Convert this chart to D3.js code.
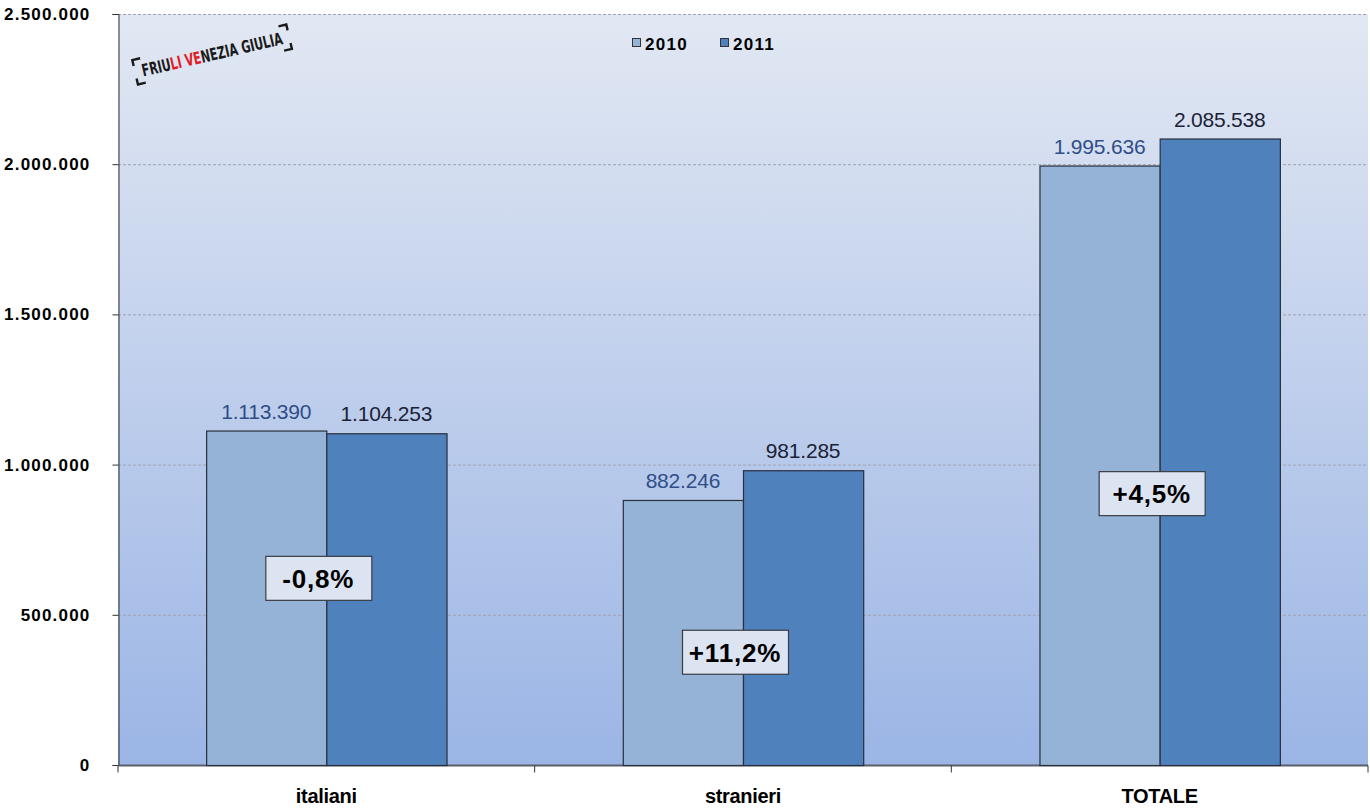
<!DOCTYPE html>
<html>
<head>
<meta charset="utf-8">
<script src="https://cdn.jsdelivr.net/npm/d3@7/dist/d3.min.js"></script>
<style>
  html, body { margin: 0; padding: 0; background: #ffffff; }
  svg { display: block; font-family: "Liberation Sans", Arial, sans-serif; }
</style>
</head>
<body>
<svg id="chart" width="1370" height="808"></svg>
<script>
const categories = ["italiani", "stranieri", "TOTALE"];
const years = ["2010", "2011"];
const values2010 = [1113390, 882246, 1995636];
const values2011 = [1104253, 981285, 2085538];
const changeLabels = ["-0,8%", "+11,2%", "+4,5%"];
const changeAnchors = [623000, 377000, 905000];
const yTicks = [0, 500000, 1000000, 1500000, 2000000, 2500000];

const fmt = v => d3.format(",")(v).replace(/,/g, ".");

const svg = d3.select("#chart");
const m = { left: 118, right: 1368, top: 14, bottom: 765 };

const x = d3.scaleBand().domain(categories).range([m.left, m.right]).paddingInner(0).paddingOuter(0);
const xi = d3.scaleBand().domain(years).range([0, x.bandwidth()]).paddingInner(0).paddingOuter(0.7333);
const y = d3.scaleLinear().domain([0, 2500000]).range([m.bottom, m.top]);

const defs = svg.append("defs");
const grad = defs.append("linearGradient").attr("id", "bg").attr("x1", 0).attr("y1", 0).attr("x2", 0).attr("y2", 1);
grad.append("stop").attr("offset", "0%").attr("stop-color", "#e2e8f3");
grad.append("stop").attr("offset", "100%").attr("stop-color", "#9bb5e5");

svg.append("rect")
  .attr("x", m.left).attr("y", m.top)
  .attr("width", m.right - m.left).attr("height", m.bottom - m.top)
  .attr("fill", "url(#bg)");

// gridlines
svg.append("g").selectAll("line").data(yTicks.filter(d => d > 0)).join("line")
  .attr("x1", m.left).attr("x2", m.right)
  .attr("y1", d => y(d) + 0.5).attr("y2", d => y(d) + 0.5)
  .attr("stroke", "#9ea4b0").attr("stroke-width", 1).attr("stroke-dasharray", "3,2");

// y axis
const yAxis = d3.axisLeft(y).tickValues(yTicks).tickSize(6).tickPadding(22).tickFormat(fmt);
const gy = svg.append("g").attr("transform", `translate(${m.left + 0.5},0)`).call(yAxis);
gy.select(".domain").attr("stroke", "#333");
gy.selectAll(".tick line").attr("stroke", "#333");
gy.selectAll(".tick text").attr("font-size", 17).attr("font-weight", "bold")
  .attr("letter-spacing", "1.2").attr("fill", "#000");

// x axis
const gx = svg.append("g").attr("transform", `translate(0,${m.bottom + 0.5})`);
gx.append("line").attr("x1", m.left).attr("x2", m.right).attr("stroke", "#5a5f6a").attr("stroke-width", 2);
gx.selectAll("line.tk").data([...categories.map(c => x(c)), m.right]).join("line")
  .attr("class", "tk")
  .attr("x1", d => d).attr("x2", d => d).attr("y1", 0).attr("y2", 7)
  .attr("stroke", "#333");
gx.selectAll("text").data(categories).join("text")
  .attr("x", d => x(d) + x.bandwidth() / 2).attr("y", 37)
  .attr("text-anchor", "middle").attr("font-size", 20).attr("font-weight", "bold")
  .attr("letter-spacing", "-0.3")
  .attr("fill", "#000").text(d => d);

// bars
const series = [
  { year: "2010", values: values2010, fill: "#95b3d7", labelColor: "#2f4e88" },
  { year: "2011", values: values2011, fill: "#4f81bd", labelColor: "#1b2236" }
];

series.forEach(s => {
  const g = svg.append("g");
  g.selectAll("rect").data(categories).join("rect")
    .attr("x", (c) => x(c) + xi(s.year) + 0.5)
    .attr("y", (c, i) => y(s.values[i]) + 0.5)
    .attr("width", xi.bandwidth())
    .attr("height", (c, i) => y(0) - y(s.values[i]))
    .attr("fill", s.fill).attr("stroke", "#2a2f3a").attr("stroke-width", 1.2);
  g.selectAll("text").data(categories).join("text")
    .attr("x", c => x(c) + xi(s.year) + xi.bandwidth() / 2)
    .attr("y", (c, i) => y(s.values[i]) - 12)
    .attr("text-anchor", "middle").attr("font-size", 21)
    .attr("letter-spacing", "-0.2")
    .attr("fill", s.labelColor).text((c, i) => fmt(s.values[i]));
});

// percentage change boxes
const boxes = svg.append("g");
categories.forEach((c, i) => {
  const cx = x(c) + x.bandwidth() / 2 - 8;
  const cy = y(changeAnchors[i]);
  const bw = 106, bh = 44;
  boxes.append("rect")
    .attr("x", cx - bw / 2 + 0.5).attr("y", cy - bh / 2 + 0.5)
    .attr("width", bw).attr("height", bh)
    .attr("fill", "#dce4f1").attr("stroke", "#3a3d44").attr("stroke-width", 1.2);
  boxes.append("text")
    .attr("x", cx).attr("y", cy + 10)
    .attr("text-anchor", "middle").attr("font-size", 26).attr("font-weight", "bold")
    .attr("letter-spacing", "0.8")
    .attr("fill", "#000").text(changeLabels[i]);
});

// legend
const legend = svg.append("g").attr("transform", "translate(632,37)");
const legendItems = [{ t: "2010", c: "#95b3d7", x: 0 }, { t: "2011", c: "#4f81bd", x: 88 }];
legendItems.forEach(li => {
  legend.append("rect").attr("x", li.x + 0.5).attr("y", 1.5).attr("width", 8).attr("height", 8)
    .attr("fill", li.c).attr("stroke", "#333");
  legend.append("text").attr("x", li.x + 13).attr("y", 13)
    .attr("font-size", 17).attr("font-weight", "bold").attr("letter-spacing", "1.3")
    .attr("fill", "#000").text(li.t);
});

// region logo
const logo = svg.append("g").attr("transform", "translate(212,54) rotate(-13)");
logo.append("text").attr("x", 0).attr("y", 6.5).attr("text-anchor", "middle")
  .attr("font-size", 17).attr("font-weight", "bold")
  .attr("font-family", "'DejaVu Sans Condensed', 'Liberation Sans Narrow', sans-serif")
  .attr("textLength", 144).attr("lengthAdjust", "spacingAndGlyphs")
  .attr("fill", "#1a1a1a")
  .call(t => {
    t.append("tspan").text("FRIU");
    t.append("tspan").attr("fill", "#e31b23").text("LI VE");
    t.append("tspan").text("NEZIA GIULIA");
  });
const bracketPaths = [
  "M-71,-12 L-79,-12 L-79,-6",
  "M-79,7 L-79,13 L-71,13",
  "M71,-12 L79,-12 L79,-6",
  "M79,7 L79,13 L71,13"
];
logo.selectAll("path").data(bracketPaths).join("path")
  .attr("d", d => d).attr("fill", "none").attr("stroke", "#1a1a1a").attr("stroke-width", 2.4);
</script>
</body>
</html>
